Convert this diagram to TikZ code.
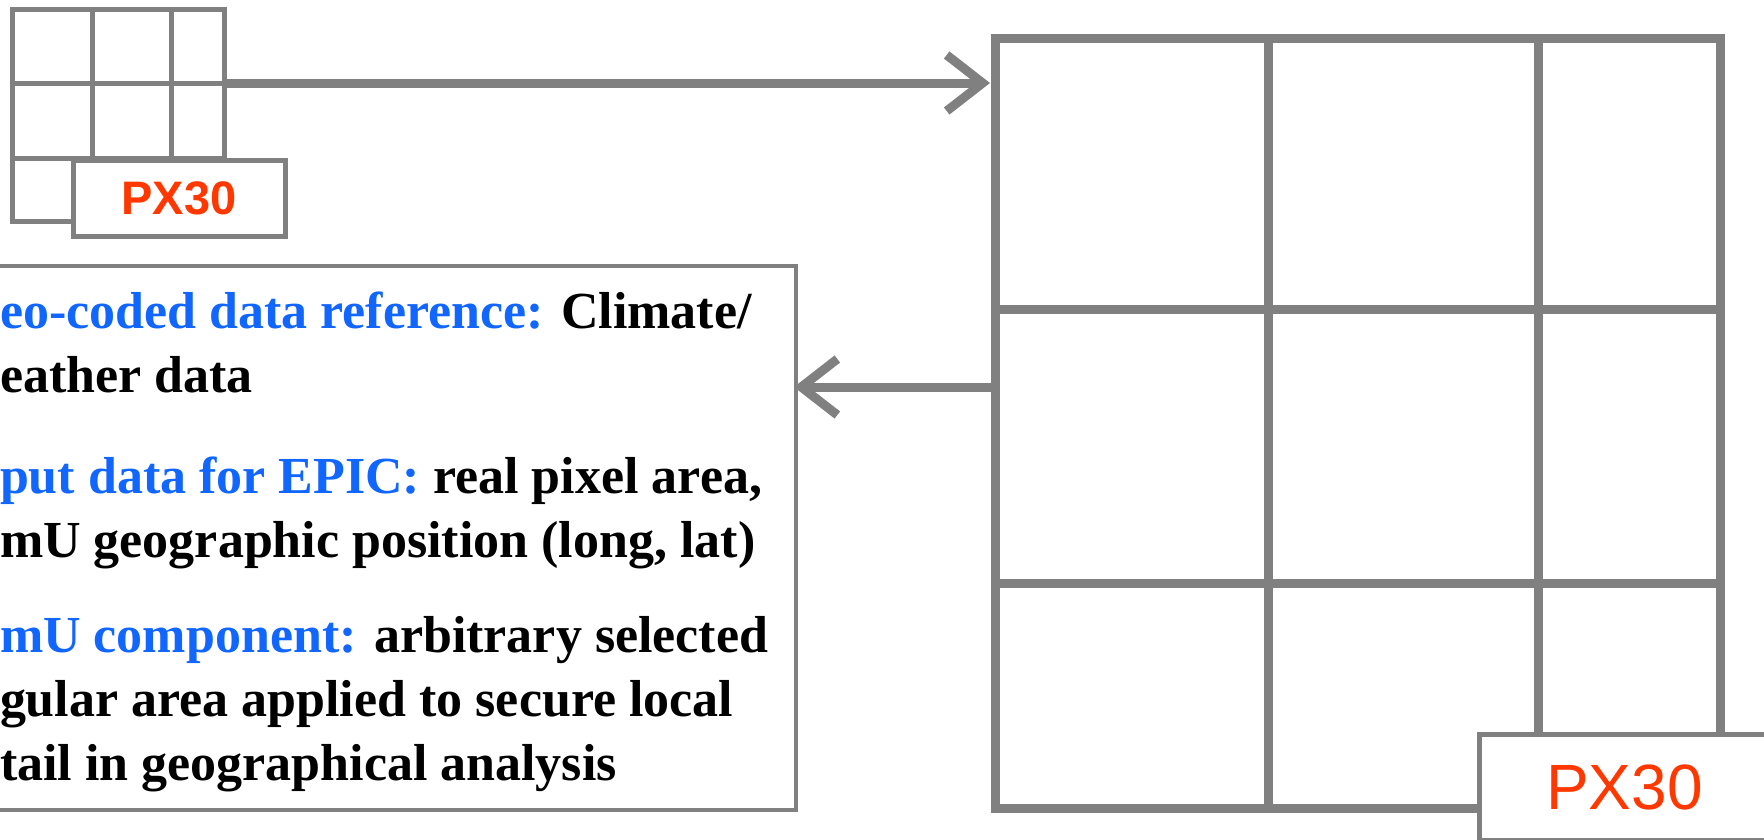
\documentclass[tikz,border=0pt]{standalone}
\usepackage{fontspec}
\setmainfont{Liberation Serif}
\newfontfamily\labelfont{Liberation Sans}
\usetikzlibrary{arrows.meta,calc}
\definecolor{gridgray}{RGB}{128,128,128}
\definecolor{tagred}{RGB}{255,56,0}
\definecolor{keyblue}{RGB}{17,102,255}
\newcommand\kw[1]{\textcolor{keyblue}{#1}}

\begin{document}
\begin{tikzpicture}[x=1pt,y=-1pt,
  every node/.style={inner sep=0pt, outer sep=0pt},
  gridframe/.style={draw=gridgray, fill=white, line join=miter},
  gridline/.style={draw=gridgray},
  tagbox/.style={draw=gridgray, fill=white, line width=5pt, text=tagred, font=\labelfont},
  conn/.style={draw=gridgray, line width=9pt, -{Straight Barb[length=36pt, width=56pt, sharp]}},
  infoline/.style={anchor=base west, font=\bfseries\fontsize{52}{64}\selectfont},
  infobox/.style={draw=gridgray, fill=white, line width=4.5pt}
]
\clip (0,0) rectangle (1764,839);
\fill[white] (0,0) rectangle (1764,839);

% small raster cell
\node[gridframe, line width=5pt, minimum width=212pt, minimum height=212pt] (small) at (118,115) {};
\draw[gridline, line width=5pt] (92,9) -- (92,221) (171,9) -- (171,221)
                                (12,83) -- (224,83) (12,158) -- (224,158);
\node[tagbox, minimum width=212pt, minimum height=76pt, font=\labelfont\bfseries\fontsize{47}{47}\selectfont] (tagS) at (179,198) {PX30\hspace{14pt}};

% enlarged raster cell
\node[gridframe, line width=9pt, minimum width=725pt, minimum height=770pt] (big) at (1357.5,423) {};
\draw[gridline, line width=9pt] (1268,38) -- (1268,808) (1538,38) -- (1538,808)
                                (995,309) -- (1720,309) (995,583) -- (1720,583);
\node[tagbox, minimum width=291pt, minimum height=106pt, font=\labelfont\fontsize{64}{64}\selectfont] (tagB) at (1624.5,787) {PX30};

% description box
\node[infobox, minimum width=817pt, minimum height=544pt] (info) at (387.5,538) {};
\node[infoline] (l1) at (0,328) {\kw{eo-coded data reference:} Climate/};
\node[infoline] (l2) at (0,392) {eather data};
\node[infoline] (l3) at (0,493) {\kw{put data for EPIC:} real pixel area,};
\node[infoline] (l4) at (0,557) {mU geographic position (long, lat)};
\node[infoline] (l5) at (0,652) {\kw{mU component:} arbitrary selected};
\node[infoline] (l6) at (0,716) {gular area applied to secure local};
\node[infoline] (l7) at (0,780) {tail in geographical analysis};

% connectors
\draw[conn, shorten >=5pt] ([yshift=-74pt]small.north east) -- ([yshift=-74pt]small.north east -| big.west);
\draw[conn, shorten >=-2pt] ([yshift=-349pt]big.north west) -- ([yshift=-349pt]big.north west -| info.east);
\end{tikzpicture}
\end{document}
